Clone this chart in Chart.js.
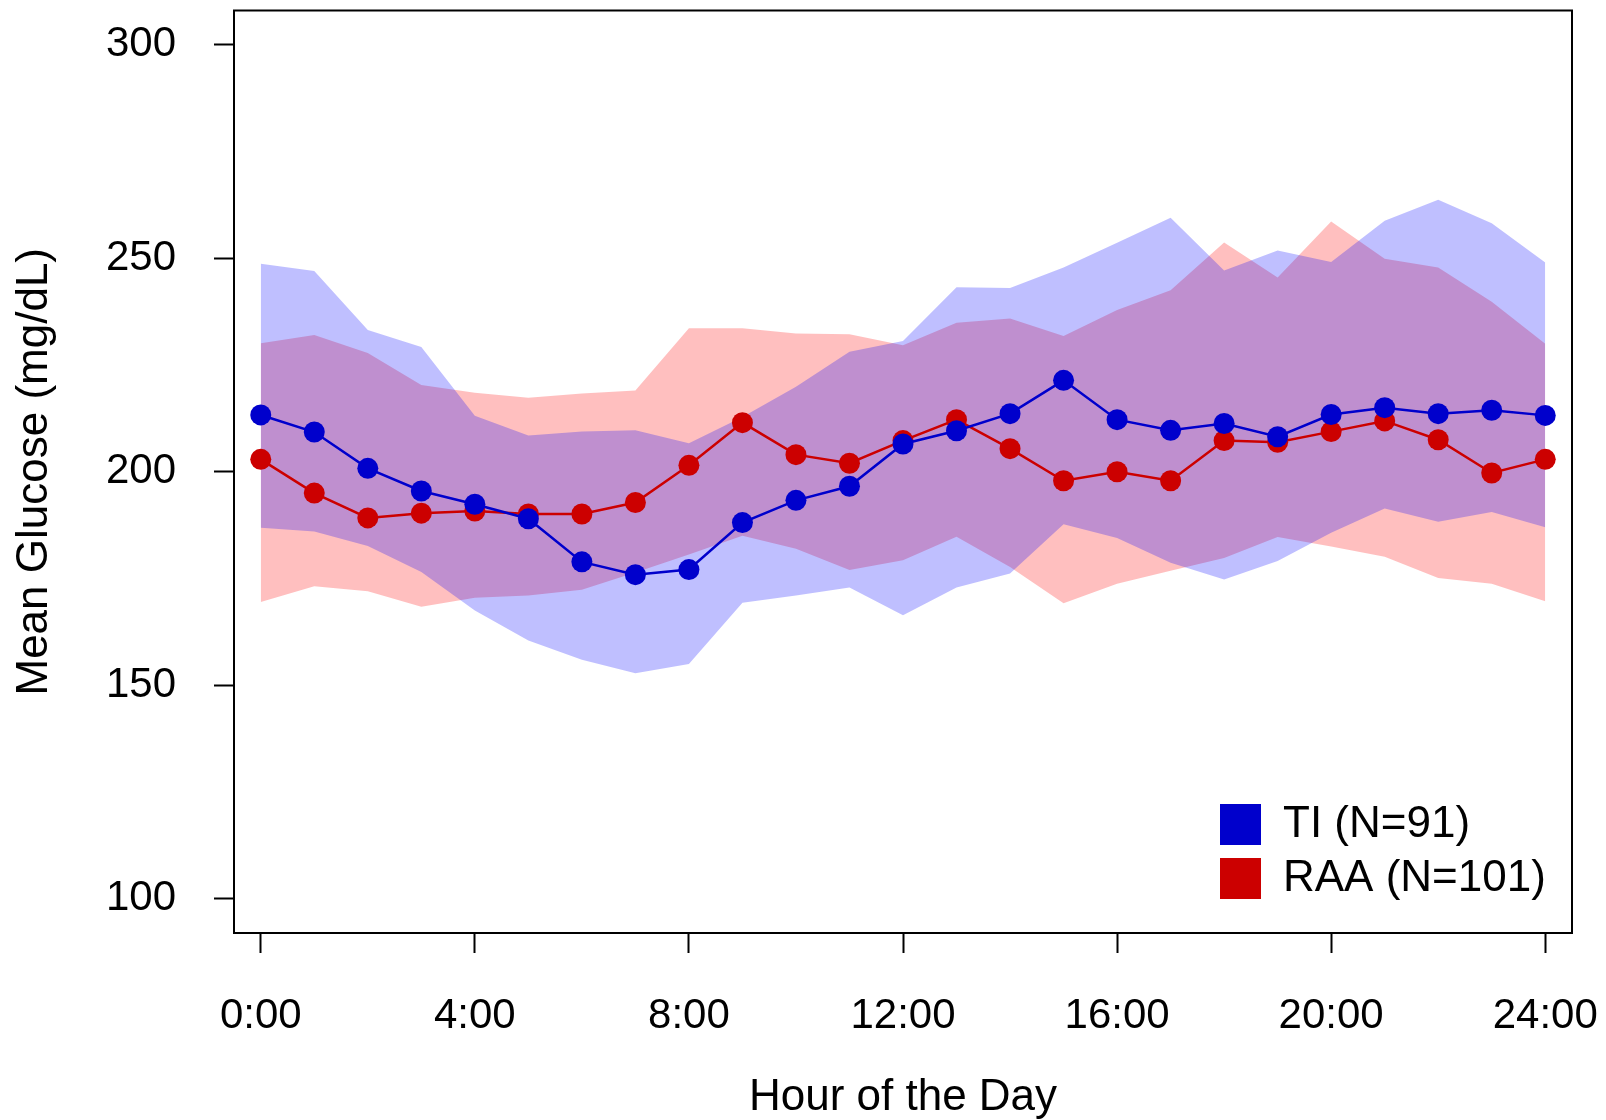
<!DOCTYPE html>
<html>
<head>
<meta charset="utf-8">
<script src="https://cdn.jsdelivr.net/npm/chart.js@4.4.0/dist/chart.umd.min.js"></script>
<style>
  html, body { margin: 0; padding: 0; background: #fff; }
  #wrap { width: 1606px; height: 1120px; }
</style>
</head>
<body>
<div id="wrap"><canvas id="myChart" width="1606" height="1120"></canvas></div>
<script>
// hour of the day
const hours = [0, 1, 2, 3, 4, 5, 6, 7, 8, 9, 10, 11, 12, 13, 14, 15, 16, 17, 18, 19, 20, 21, 22, 23, 24];

// TI group: mean and band
const tiMean  = [213.3, 209.3, 200.8, 195.5, 192.4, 189.0, 178.9, 175.9, 177.1, 188.1, 193.3, 196.6, 206.5, 209.6, 213.6, 221.4, 212.2, 209.7, 211.3, 208.2, 213.4, 215.0, 213.6, 214.4, 213.2];
const tiUpper = [248.7, 247.0, 233.2, 229.2, 213.1, 208.5, 209.4, 209.7, 206.7, 212.8, 219.9, 228.1, 230.6, 243.2, 243.0, 247.8, 253.6, 259.5, 247.1, 251.8, 249.1, 258.8, 263.7, 258.2, 249.0];
const tiLower = [186.9, 186.0, 182.6, 176.5, 167.5, 160.5, 156.0, 152.8, 155.0, 169.3, 171.0, 172.9, 166.4, 172.9, 176.2, 187.7, 184.5, 178.7, 174.8, 179.1, 185.7, 191.4, 188.3, 190.6, 187.0];

// RAA group: mean and band
const raaMean  = [202.9, 195.0, 189.2, 190.3, 190.8, 190.1, 190.1, 192.8, 201.5, 211.5, 204.0, 202.0, 207.3, 212.2, 205.4, 197.9, 200.0, 197.9, 207.3, 206.9, 209.4, 211.9, 207.5, 199.7, 202.9];
const raaUpper = [230.1, 232.0, 227.8, 220.3, 218.5, 217.3, 218.3, 219.0, 233.6, 233.6, 232.4, 232.2, 229.6, 234.9, 235.9, 231.8, 237.9, 242.5, 253.7, 245.5, 258.6, 249.9, 247.8, 239.8, 230.0];
const raaLower = [169.5, 173.2, 172.0, 168.4, 170.5, 171.0, 172.4, 176.4, 180.6, 185.0, 182.0, 177.0, 179.3, 184.8, 177.7, 169.2, 173.8, 176.8, 179.8, 184.7, 182.5, 180.1, 175.1, 173.8, 169.7];

const xTicks = [0, 4, 8, 12, 16, 20, 24];
const xTickLabels = ['0:00', '4:00', '8:00', '12:00', '16:00', '20:00', '24:00'];
const yTicks = [100, 150, 200, 250, 300];
const seriesNames = ['TI (N=91)', 'RAA (N=101)'];

const FONT = "'Liberation Sans', Arial, sans-serif";
const BLUE = '#0000CC';
const RED = '#CC0000';

const pts = vals => hours.map((h, i) => ({x: h, y: vals[i]}));

// box round the plot and the legend in the lower right corner
const boxAndLegend = {
    id: 'boxAndLegend',
    afterDraw(chart) {
        const {ctx, chartArea: a} = chart;
        ctx.save();
        ctx.lineWidth = 2;
        ctx.strokeStyle = '#000';
        ctx.strokeRect(a.left, a.top, a.right - a.left, a.bottom - a.top);

        ctx.font = '44px ' + FONT;
        ctx.textBaseline = 'middle';
        ctx.textAlign = 'left';
        [BLUE, RED].forEach((c, i) => {
            const y = a.bottom - 129 + i * 54;
            ctx.fillStyle = c;
            ctx.fillRect(a.right - 352, y, 41, 41);
            ctx.fillStyle = '#000';
            ctx.fillText(seriesNames[i], a.right - 289, y + 21);
        });
        ctx.restore();
    }
};

const band = (upper, lower, color, order) => ([
    {data: pts(upper), fill: '+1', backgroundColor: color, borderColor: 'rgba(0,0,0,0)', borderWidth: 0, pointRadius: 0, order: order},
    {data: pts(lower), fill: false, borderColor: 'rgba(0,0,0,0)', borderWidth: 0, pointRadius: 0, order: order}
]);

const meanLine = (vals, color, order) => ({
    data: pts(vals),
    borderColor: color,
    backgroundColor: color,
    borderWidth: 2.5,
    pointRadius: 10.5,
    pointBorderWidth: 0,
    pointBackgroundColor: color,
    fill: false,
    order: order
});

const tickFont = {family: FONT, size: 42};
const titleFont = {family: FONT, size: 44, lineHeight: 1};

new Chart(document.getElementById('myChart').getContext('2d'), {
    type: 'line',
    data: {
        datasets: [
            meanLine(tiMean, BLUE, 1),
            meanLine(raaMean, RED, 2),
            ...band(tiUpper, tiLower, 'rgba(0,0,255,0.25)', 3),
            ...band(raaUpper, raaLower, 'rgba(255,0,0,0.25)', 4)
        ]
    },
    options: {
        responsive: false,
        animation: false,
        devicePixelRatio: 1,
        layout: {padding: {top: 8, right: 34, left: 0, bottom: 0}},
        plugins: {legend: {display: false}, tooltip: {enabled: false}},
        scales: {
            x: {
                type: 'linear',
                min: -0.5,
                max: 24.5,
                afterBuildTicks: s => { s.ticks = xTicks.map(v => ({value: v})); },
                afterFit: s => { s.height = 187; s.paddingLeft = 0; s.paddingRight = 0; },
                ticks: {
                    autoSkip: false, maxRotation: 0, padding: 38, color: '#000', font: tickFont,
                    callback: (v, i) => xTickLabels[i]
                },
                grid: {drawOnChartArea: false, drawTicks: true, tickLength: 20, tickWidth: 2, tickColor: '#000'},
                border: {display: false},
                title: {display: true, text: 'Hour of the Day', color: '#000', font: titleFont, padding: {top: 0, bottom: 0}}
            },
            y: {
                min: 92,
                max: 308,
                afterBuildTicks: s => { s.ticks = yTicks.map(v => ({value: v})); },
                afterFit: s => { s.width = 234; s.paddingTop = 0; s.paddingBottom = 0; },
                ticks: {padding: 38, color: '#000', font: tickFont, callback: v => String(v)},
                grid: {drawOnChartArea: false, drawTicks: true, tickLength: 20, tickWidth: 2, tickColor: '#000'},
                border: {display: false},
                title: {display: true, text: 'Mean Glucose (mg/dL)', color: '#000', font: titleFont, padding: {top: 13, bottom: 0}}
            }
        }
    },
    plugins: [boxAndLegend]
});
</script>
</body>
</html>
